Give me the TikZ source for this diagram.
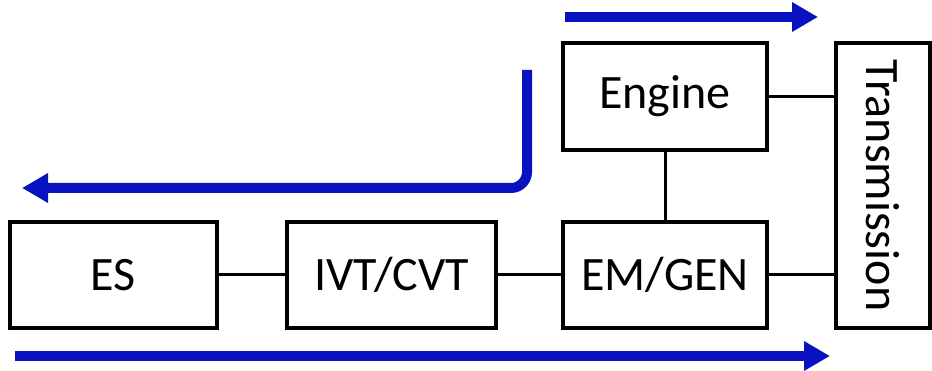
\documentclass[tikz,border=0pt]{standalone}
\usepackage{fontspec}
\setmainfont{Carlito}
\usetikzlibrary{arrows.meta}
\definecolor{flowblue}{RGB}{8,18,192}
\begin{document}
\begin{tikzpicture}[x=1pt,y=-1pt,
  box/.style={draw, line width=3.5pt, inner sep=0pt, font=\fontsize{48}{57}\selectfont},
  link/.style={line width=3pt},
  flow/.style={draw=flowblue, line width=10pt, -{Triangle[length=26pt,width=28pt]}}]
\useasboundingbox (0,0) rectangle (932,371);
\node[box, minimum width=207pt, minimum height=106pt] (es) at (113.5,275) {ES};
\node[box, minimum width=209pt, minimum height=106pt] (ivt) at (391.5,275) {IVT/CVT};
\node[box, minimum width=204pt, minimum height=106pt] (emgen) at (665,275) {EM/GEN};
\node[box, minimum width=204pt, minimum height=107pt] (engine) at (665,96.5) {Engine};
\node[box, minimum width=94pt, minimum height=285pt] (trans) at (883,185.5) {};
\node[rotate=-90, font=\fontsize{48}{57}\selectfont] (translabel) at (trans.center) {Transmission};
\draw[link] (es.east) -- (ivt.west);
\draw[link] (ivt.east) -- (emgen.west);
\draw[link] (emgen.east) -- (emgen.east -| trans.west);
\draw[link] (engine.east) -- (engine.east -| trans.west);
\draw[link] (engine.south) -- (emgen.north);
\coordinate (t1) at (565,17);
\coordinate (t2) at (818,17);
\coordinate (b1) at (15,356);
\coordinate (b2) at (830,356);
\coordinate (l1) at (527,70);
\coordinate (l2) at (527,188);
\coordinate (l3) at (22,188);
\draw[flow] (t1) -- (t2);
\draw[flow] (b1) -- (b2);
\draw[flow, rounded corners=16pt] (l1) -- (l2) -- (l3);
\end{tikzpicture}
\end{document}
